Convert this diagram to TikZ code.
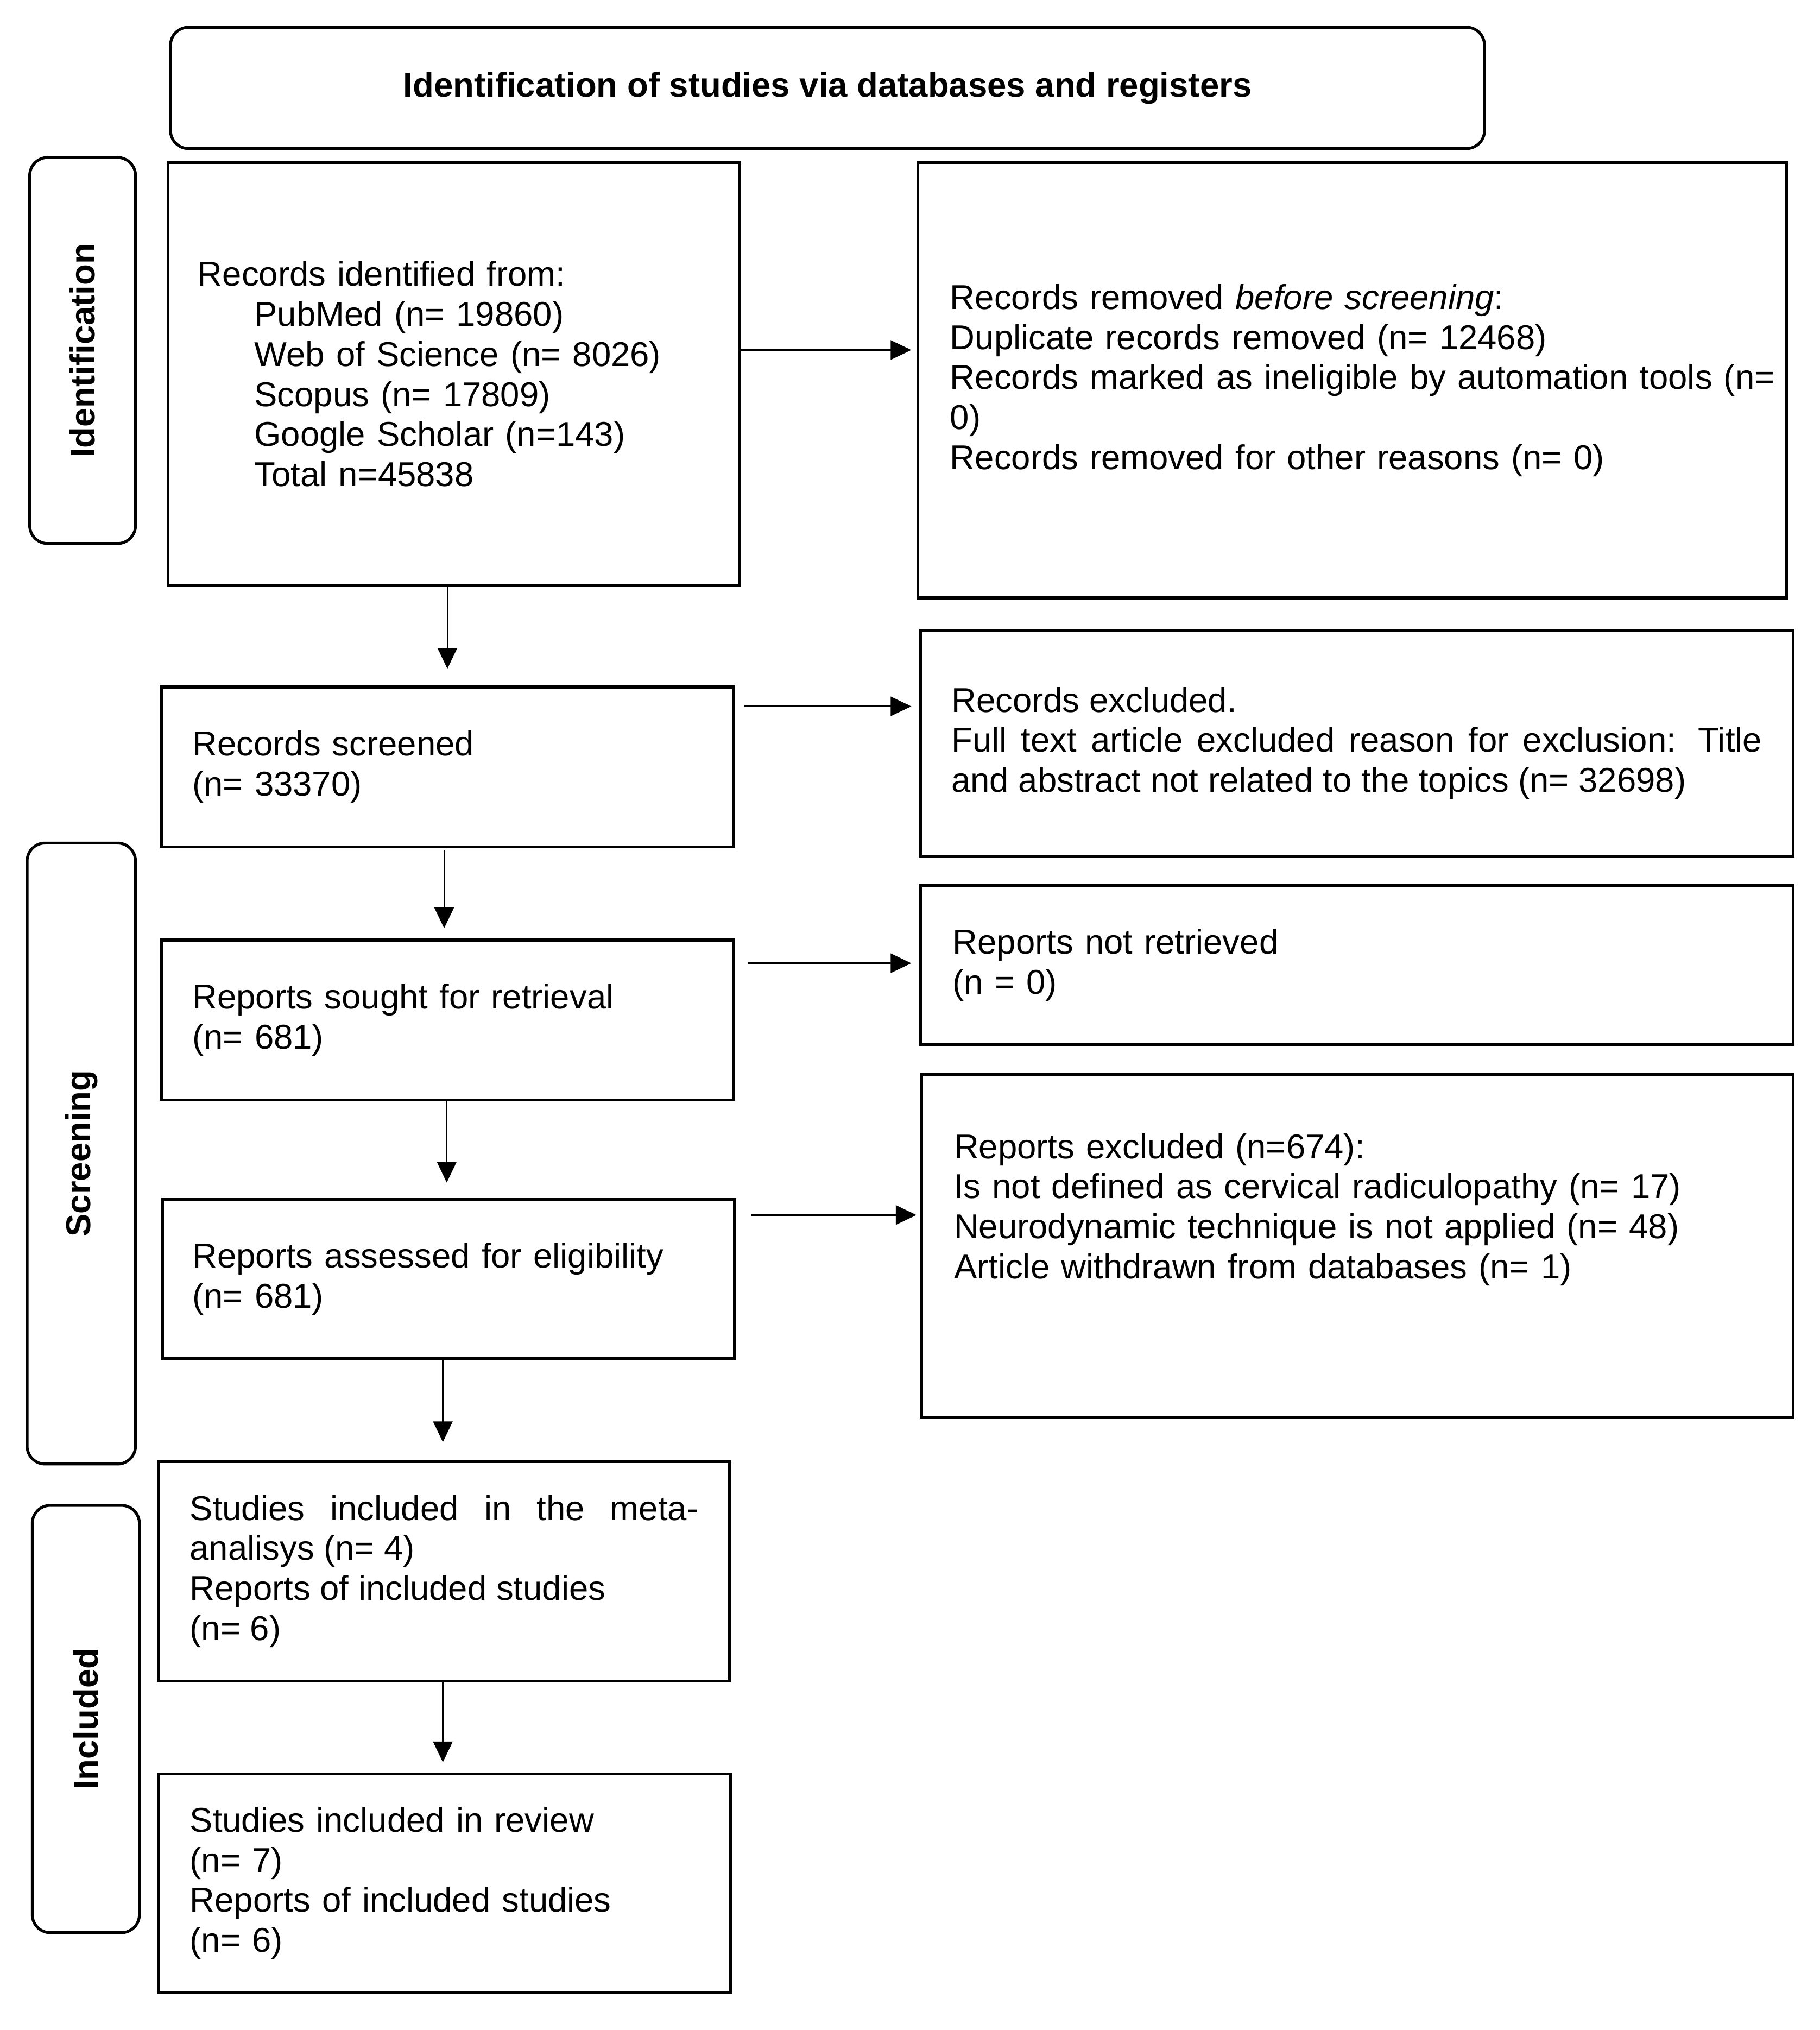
\documentclass[tikz,border=0pt]{standalone}
\usepackage{fontspec}
\setmainfont{Liberation Sans}
\usetikzlibrary{arrows.meta}
\setlength{\parindent}{0pt}
\newcommand\myfs{\fontsize{26.7}{31}\selectfont}
\tikzset{
  box/.style={draw, line width=2.2pt, inner ysep=0pt, anchor=north west, align=left, font=\myfs},
  jbox/.style={box, align=justify},
  lab/.style={draw, line width=2.2pt, rounded corners=14pt, inner sep=0pt, font=\myfs\bfseries, align=center},
  arr/.style={line width=1.2pt, -{Triangle[length=16pt, width=15pt]}},
}
\begin{document}
\begin{tikzpicture}[x=1pt, y=-1pt]
\useasboundingbox (0,0) rectangle (1410,1572.4);

\node[lab, anchor=north west, minimum width=1018pt, minimum height=94pt] (title) at (131,20)
  {Identification of studies via databases and registers};

\node[lab, rotate=90, minimum width=299pt, minimum height=82pt] (idlab) at (64,271.5) {Identification};
\node[lab, rotate=90, minimum width=481pt, minimum height=84pt] (scrlab) at (63,893.5) {Screening};
\node[lab, rotate=90, minimum width=331pt, minimum height=83pt] (inclab) at (66.5,1331.5) {Included};

\node[box, minimum width=443pt, minimum height=327pt, inner xsep=23pt, text width=397pt] (b1) at (129,125)
  {Records identified from:\\
   \hspace*{44pt}PubMed (n= 19860)\\
   \hspace*{44pt}Web of Science (n= 8026)\\
   \hspace*{44pt}Scopus (n= 17809)\\
   \hspace*{44pt}Google Scholar (n=143)\\
   \hspace*{44pt}Total n=45838};

\node[box, minimum width=673pt, minimum height=337pt, inner xsep=25pt, text width=623pt] (b2) at (710,125)
  {Records removed \textit{before screening}:\\
   Duplicate records removed (n= 12468)\\
   \mbox{Records marked as ineligible by automation tools (n=}\\
   0)\\
   Records removed for other reasons (n= 0)};

\node[box, minimum width=443pt, minimum height=124pt, inner xsep=24pt, text width=395pt] (b3) at (124,531)
  {Records screened\\ (n= 33370)};

\node[jbox, minimum width=676pt, minimum height=175pt, inner xsep=24pt, text width=628pt] (b4) at (712,487)
  {Records excluded.\par
   Full text article excluded reason for exclusion: Title\linebreak
   and abstract not related to the topics (n= 32698)};

\node[box, minimum width=443pt, minimum height=124pt, inner xsep=24pt, text width=395pt] (b5) at (124,727)
  {Reports sought for retrieval\\ (n= 681)};

\node[box, minimum width=676pt, minimum height=123pt, inner xsep=25pt, text width=626pt] (b6) at (712,685)
  {Reports not retrieved\\ (n = 0)};

\node[box, minimum width=443pt, minimum height=123pt, inner xsep=23pt, text width=397pt] (b7) at (125,928)
  {Reports assessed for eligibility\\ (n= 681)};

\node[box, minimum width=675pt, minimum height=266pt, inner xsep=25pt, text width=625pt] (b8) at (713,831)
  {Reports excluded (n=674):\\
   Is not defined as cervical radiculopathy (n= 17)\\
   Neurodynamic technique is not applied (n= 48)\\
   Article withdrawn from databases (n= 1)\\
   \mbox{}\\ \mbox{}};

\node[jbox, minimum width=442pt, minimum height=170pt, inner xsep=24pt, text width=394pt] (b9) at (122,1131)
  {Studies included in the meta-\linebreak analisys (n= 4)\par
   Reports of included studies\par
   (n= 6)};

\node[box, minimum width=443pt, minimum height=169pt, inner xsep=24pt, text width=395pt] (b10) at (122,1373)
  {Studies included in review\\ (n= 7)\\ Reports of included studies\\ (n= 6)};

% vertical arrows
\draw[arr, shorten >=13pt] (b3.north |- b1.south) -- (b3.north);
\draw[arr, shorten >=8pt, shorten <=1pt] ([xshift=-2.5pt]b5.north |- b3.south) -- ([xshift=-2.5pt]b5.north);
\draw[arr, shorten >=12pt] ([xshift=-1.5pt]b7.north |- b5.south) -- ([xshift=-1.5pt]b7.north);
\draw[arr, shorten >=14pt] ([xshift=-1pt]b9.north |- b7.south) -- ([xshift=-1pt]b9.north);
\draw[arr, shorten >=8pt] ([xshift=-1.5pt]b10.north |- b9.south) -- ([xshift=-1.5pt]b10.north);

% horizontal arrows
\draw[arr, shorten >=4pt] ([yshift=18.5pt]b1.east) coordinate (a1) -- (a1 -| b2.west);
\draw[arr, shorten <=7pt, shorten >=6pt] ([yshift=47pt]b3.east) coordinate (a2) -- (a2 -| b4.west);
\draw[arr, shorten <=10pt, shorten >=6pt] ([yshift=44pt]b5.east) coordinate (a3) -- (a3 -| b6.west);
\draw[arr, shorten <=12pt, shorten >=3pt] ([yshift=49.5pt]b7.east) coordinate (a4) -- (a4 -| b8.west);
\end{tikzpicture}
\end{document}
